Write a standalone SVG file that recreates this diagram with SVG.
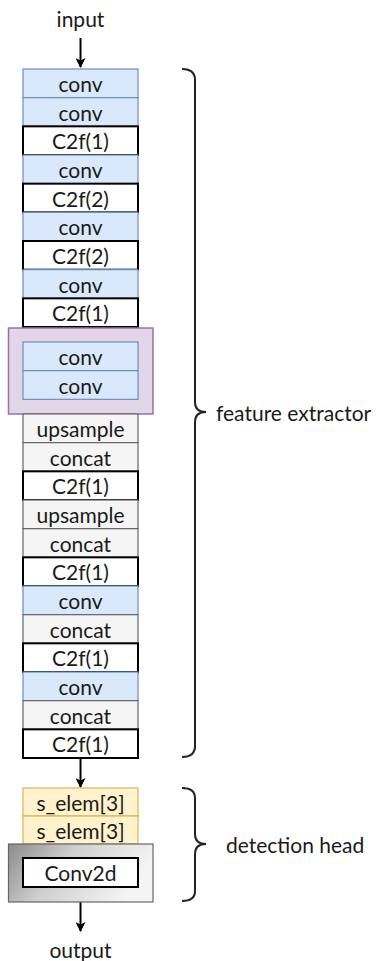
<svg xmlns="http://www.w3.org/2000/svg" width="376" height="961" viewBox="0 0 376 961">
<style>
text{font-family:Lato,"Open Sans","Liberation Sans",sans-serif;font-size:21px;fill:#1a1a1a;text-anchor:middle;dominant-baseline:central}
.b{fill:#dae8fc;stroke:#6c8ebf;stroke-width:1.2}
.w{fill:#fff;stroke:#000;stroke-width:2}
.g{fill:#f5f5f5;stroke:#666;stroke-width:1.2}
.y{fill:#fff2cc;stroke:#d6b656;stroke-width:1.2}
.p{fill:#e1d5e7;stroke:#9673a6;stroke-width:1.5}
.lab{text-anchor:start}
.br{fill:none;stroke:#222;stroke-width:2}
.c{stroke:#000;stroke-width:2;fill:none}
</style>
<defs>
<marker id="ah" viewBox="0 0 10 10" refX="9" refY="5" markerWidth="10" markerHeight="10" orient="auto" markerUnits="userSpaceOnUse"><path d="M0,0 L10,5 L0,10 L2.5,5 z" fill="#000"/></marker>
<linearGradient id="gg" x1="0" y1="0" x2="1" y2="0.3">
<stop offset="0" stop-color="#8c8c8c"/><stop offset="0.45" stop-color="#d0d0d0"/><stop offset="1" stop-color="#f4f4f4"/>
</linearGradient>
</defs>
<text x="80.5" y="18">input</text>
<text x="80.5" y="949">output</text>
<g id="connectors">
<line class="c" x1="80.5" y1="38" x2="80.5" y2="67" marker-end="url(#ah)"/>
<line class="c" x1="80.5" y1="759" x2="80.5" y2="787" marker-end="url(#ah)"/>
<line class="c" x1="80.5" y1="902" x2="80.5" y2="931" marker-end="url(#ah)"/>
</g>
<g id="backbone">
<g id="n1"><rect class="b" x="23" y="69" width="115" height="28.67"/><text x="80.5" y="83.3">conv</text></g>
<g id="n2"><rect class="b" x="23" y="97.67" width="115" height="28.67"/><text x="80.5" y="112">conv</text></g>
<g id="n3"><rect class="w" x="23" y="126.33" width="115" height="28.67"/><text x="80.5" y="140.7">C2f(1)</text></g>
<g id="n4"><rect class="b" x="23" y="155" width="115" height="28.67"/><text x="80.5" y="169.3">conv</text></g>
<g id="n5"><rect class="w" x="23" y="183.67" width="115" height="28.67"/><text x="80.5" y="198">C2f(2)</text></g>
<g id="n6"><rect class="b" x="23" y="212.33" width="115" height="28.67"/><text x="80.5" y="226.7">conv</text></g>
<g id="n7"><rect class="w" x="23" y="241" width="115" height="28.67"/><text x="80.5" y="255.3">C2f(2)</text></g>
<g id="n8"><rect class="b" x="23" y="269.67" width="115" height="28.67"/><text x="80.5" y="284">conv</text></g>
<g id="n9"><rect class="w" x="23" y="298.33" width="115" height="28.67"/><text x="80.5" y="312.7">C2f(1)</text></g>
</g>
<g id="sppf">
<rect class="p" x="8.5" y="328" width="144.5" height="86"/>
<g id="n10"><rect class="b" x="23" y="342" width="115" height="28.67"/><text x="80.5" y="356.3">conv</text></g>
<g id="n11"><rect class="b" x="23" y="370.67" width="115" height="28.67"/><text x="80.5" y="385">conv</text></g>
</g>
<g id="neck">
<g id="n12"><rect class="g" x="23" y="414" width="115" height="28.67"/><text x="80.5" y="428.3">upsample</text></g>
<g id="n13"><rect class="g" x="23" y="442.67" width="115" height="28.67"/><text x="80.5" y="457">concat</text></g>
<g id="n14"><rect class="w" x="23" y="471.33" width="115" height="28.67"/><text x="80.5" y="485.7">C2f(1)</text></g>
<g id="n15"><rect class="g" x="23" y="500" width="115" height="28.67"/><text x="80.5" y="514.3">upsample</text></g>
<g id="n16"><rect class="g" x="23" y="528.67" width="115" height="28.67"/><text x="80.5" y="543">concat</text></g>
<g id="n17"><rect class="w" x="23" y="557.33" width="115" height="28.67"/><text x="80.5" y="571.7">C2f(1)</text></g>
<g id="n18"><rect class="b" x="23" y="586" width="115" height="28.67"/><text x="80.5" y="600.3">conv</text></g>
<g id="n19"><rect class="g" x="23" y="614.67" width="115" height="28.67"/><text x="80.5" y="629">concat</text></g>
<g id="n20"><rect class="w" x="23" y="643.33" width="115" height="28.67"/><text x="80.5" y="657.7">C2f(1)</text></g>
<g id="n21"><rect class="b" x="23" y="672" width="115" height="28.67"/><text x="80.5" y="686.3">conv</text></g>
<g id="n22"><rect class="g" x="23" y="700.67" width="115" height="28.67"/><text x="80.5" y="715">concat</text></g>
<g id="n23"><rect class="w" x="23" y="729.33" width="115" height="28.67"/><text x="80.5" y="743.7">C2f(1)</text></g>
</g>
<g id="head">
<g id="n24"><rect class="y" x="23" y="788" width="115" height="28"/><text x="80.5" y="802">s_elem[3]</text></g>
<g id="n25"><rect class="y" x="23" y="816" width="115" height="28"/><text x="80.5" y="830">s_elem[3]</text></g>
<g id="n26"><rect x="8.5" y="844" width="144.5" height="58" fill="url(#gg)" stroke="#666" stroke-width="1.2"/>
<rect class="w" x="23" y="858" width="115" height="29"/><text x="80.5" y="872.5">Conv2d</text></g>
</g>
<g id="braces">
<path class="br" d="M182,69 Q195,69 195,80 L195,402 Q195,412 206,412 Q195,412 195,422 L195,746 Q195,757 182,757"/>
<path class="br" d="M182,788 Q195,788 195,798 L195,834 Q195,844 206,844 Q195,844 195,854 L195,891 Q195,901 182,901"/>
</g>
<text class="lab" x="216" y="412">feature extractor</text>
<text class="lab" x="226" y="844">detection head</text>
</svg>
